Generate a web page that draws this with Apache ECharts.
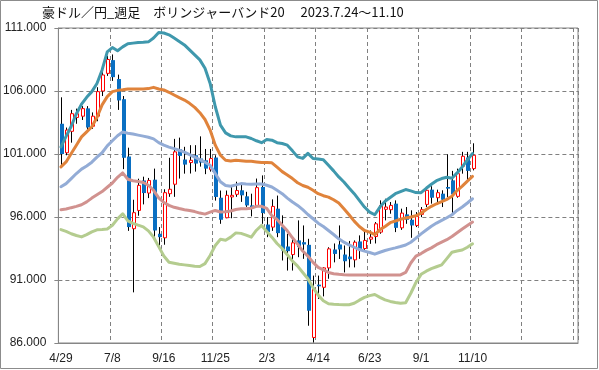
<!DOCTYPE html>
<html><head><meta charset="utf-8">
<script src="https://cdn.jsdelivr.net/npm/echarts@6/dist/echarts.min.js"></script>
<style>html,body{margin:0;padding:0;background:#fff}#c{width:599px;height:370px}</style>
</head><body><div id="c"></div>
<script>
const titleText = '豪ドル／円_週足　ボリンジャーバンド20　 2023.7.24～11.10';
const dates = ['4/29','5/6','5/13','5/20','5/27','6/3','6/10','6/17','6/24','7/1',
'7/8','7/15','7/22','7/29','8/5','8/12','8/19','8/26','9/2','9/9',
'9/16','9/23','9/30','10/7','10/14','10/21','10/28','11/4','11/11','11/18',
'11/25','12/2','12/9','12/16','12/23','12/30','1/6','1/13','1/20','1/27',
'2/3','2/10','2/17','2/24','3/3','3/10','3/17','3/24','3/31','4/7',
'4/14','4/21','4/28','5/5','5/12','5/19','5/26','6/2','6/9','6/16',
'6/23','6/30','7/7','7/14','7/21','7/28','8/4','8/11','8/18','8/25',
'9/1','9/8','9/15','9/22','9/29','10/6','10/13','10/20','10/27','11/3',
'11/10'];
const totalSlots = 101;

const open  = [103.4,101.1,102.8,103.9,104.0,104.62,103.2,104.0,106.0,107.4,
108.45,106.95,105.35,100.8,95.07,96.52,98.9,97.9,98.96,94.67,
94.35,97.85,98.6,101.38,100.56,100.32,100.9,100.64,100.5,99.76,
100.72,97.53,95.94,97.59,97.8,98.12,97.64,96.92,96.87,98.38,
95.4,95.2,96.66,95.2,93.66,93.02,94.14,94.0,93.79,86.44,
90.63,90.42,91.96,93.42,93.82,93.02,92.86,92.6,94.06,93.5,
94.24,94.45,94.8,96.61,96.58,97.06,95.14,96.21,95.78,95.33,
96.21,97.0,98.17,97.53,97.85,98.38,98.91,97.64,100.03,100.72,
99.84];
const close = [101.0,102.9,104.2,104.2,104.6,103.1,104.0,105.95,107.27,108.5,
107.1,105.25,100.7,95.2,96.34,98.51,97.9,98.9,94.93,94.4,
97.93,98.2,101.17,100.85,100.16,100.5,100.24,100.32,99.84,100.64,
97.59,95.78,97.72,97.72,98.1,97.72,96.92,96.74,98.33,96.31,
94.8,96.84,94.72,93.34,93.29,93.95,93.61,93.82,88.56,90.29,
90.5,91.96,93.47,93.07,93.42,92.49,92.65,94.0,93.42,94.14,
94.4,95.46,96.92,96.79,96.92,95.14,96.31,95.78,95.33,96.05,
96.58,98.12,97.53,97.93,97.37,98.25,97.8,99.44,100.82,99.66,
100.9];
const low   = [100.0,100.9,101.9,103.4,103.7,102.75,103.0,103.6,105.6,107.2,
106.8,104.5,99.8,94.9,90.02,96.1,97.0,97.5,94.14,93.74,
93.8,97.6,97.6,99.05,99.44,99.45,99.6,100.0,99.4,99.6,
97.3,95.46,95.9,95.9,97.6,97.2,96.8,96.05,96.8,95.46,
94.4,94.9,94.4,92.55,91.75,91.75,92.81,92.68,87.37,86.04,
89.5,89.7,91.1,92.4,92.67,91.6,92.0,92.0,92.68,93.34,
93.87,93.9,94.67,95.73,96.26,94.8,94.98,95.46,94.35,95.2,
95.99,96.79,97.06,97.19,96.79,97.59,96.31,97.53,99.44,98.9,
99.7];
const high  = [105.5,103.1,104.5,104.6,104.8,104.8,104.3,106.3,107.5,108.8,
108.9,107.3,105.6,101.5,97.37,99.04,99.2,99.1,99.84,95.2,
98.2,100.7,102.2,102.3,101.57,101.7,101.7,102.4,101.4,101.4,
100.9,98.1,98.1,98.4,98.8,98.65,98.0,97.85,99.05,99.3,
96.0,97.4,97.7,96.13,94.67,94.4,95.73,95.33,94.27,91.35,
91.35,92.0,93.6,93.9,95.33,93.74,94.1,94.14,94.54,94.93,
94.93,95.6,97.32,97.45,97.19,97.32,96.66,96.79,96.53,96.39,
96.79,98.33,98.44,98.17,98.12,100.98,99.66,99.84,101.17,101.17,
101.85];

const upper2 = [101.57,102.4,103.2,104.2,104.95,105.5,105.95,106.6,107.67,109.1,
109.45,109.2,109.5,109.75,109.8,109.85,109.87,109.9,110.2,110.64,
110.6,110.46,110.2,109.93,109.66,109.26,108.87,108.47,107.8,106.6,
104.75,103.29,102.68,102.44,102.36,102.36,102.36,102.23,102.05,101.9,
102.15,102.1,101.9,101.83,101.7,101.25,100.77,100.65,101.05,100.64,
100.6,100.55,100.1,99.66,99.18,98.78,98.3,97.85,97.32,96.79,
96.39,96.18,96.79,97.25,97.55,97.85,98.02,98.18,98.07,97.94,
97.93,98.28,98.6,98.88,99.05,99.15,99.08,99.5,99.97,100.53,
101.04];
const upper1 = [99.98,100.37,101.04,101.7,102.36,102.76,103.16,103.9,104.9,105.55,
105.95,106.05,106.1,106.16,106.16,106.16,106.16,106.19,106.29,106.16,
106.08,105.9,105.68,105.47,105.28,105.02,104.7,104.28,103.74,102.9,
101.7,100.9,100.5,100.45,100.5,100.47,100.42,100.42,100.37,100.32,
100.32,100.3,99.95,99.6,99.34,99.05,98.72,98.5,98.36,98.12,
97.85,97.69,97.58,97.37,97.11,96.66,96.18,95.67,95.25,94.93,
94.8,94.6,95.0,95.25,95.55,95.68,95.82,95.92,96.0,96.1,
96.3,96.6,96.85,97.05,97.22,97.4,97.65,98.1,98.45,98.85,
99.22];
const middle = [98.4,98.65,99.05,99.45,99.8,100.05,100.35,100.75,101.1,101.65,
102.05,102.45,102.75,102.65,102.58,102.5,102.42,102.33,102.2,101.9,
101.7,101.55,101.43,101.3,101.15,100.95,100.75,100.55,100.35,100.1,
99.45,98.8,98.5,98.44,98.55,98.65,98.62,98.6,98.62,98.62,
98.52,98.38,98.12,97.85,97.5,97.19,96.92,96.58,96.2,95.86,
95.51,95.25,94.93,94.61,94.27,94.0,93.79,93.6,93.42,93.29,
93.18,93.05,93.2,93.34,93.45,93.55,93.66,93.78,94.0,94.32,
94.66,94.97,95.27,95.52,95.73,95.94,96.18,96.52,96.79,97.11,
97.45];
const lower1 = [96.58,96.63,96.74,96.84,96.97,97.2,97.5,97.76,98.02,98.36,
98.7,99.15,99.5,99.0,98.88,98.82,98.74,98.52,98.12,97.52,
97.15,96.92,96.77,96.67,96.58,96.52,96.43,96.31,96.23,96.38,
96.52,96.4,96.42,96.48,96.6,96.66,96.66,96.7,96.85,96.85,
96.68,96.1,95.8,95.35,94.9,94.35,93.85,93.3,92.9,92.4,
92.0,91.8,91.6,91.5,91.45,91.42,91.4,91.4,91.4,91.4,
91.4,91.4,91.4,91.4,91.4,91.4,91.4,91.6,92.35,92.9,
93.1,93.35,93.55,93.8,94.0,94.2,94.45,94.75,95.05,95.33,
95.6];
const lower2 = [95.0,94.86,94.67,94.53,94.42,94.6,94.82,94.98,95.01,95.05,
95.35,95.85,96.26,95.7,95.5,95.35,95.22,94.9,94.4,93.65,
92.9,92.41,92.33,92.25,92.2,92.15,92.1,92.07,92.3,92.95,
93.74,94.23,94.16,94.4,94.74,94.7,94.56,94.4,94.95,95.33,
94.85,94.4,93.9,93.5,93.0,92.5,92.1,91.6,91.1,90.4,
89.8,89.35,89.12,89.08,89.05,89.04,89.04,89.15,89.4,89.62,
89.76,89.85,89.62,89.42,89.3,89.22,89.15,89.2,89.95,90.8,
91.45,91.7,91.9,92.05,92.2,92.7,93.2,93.3,93.38,93.6,
93.87];

const yMin = 86, yMax = 111, yStep = 5;

const categories = dates.concat(new Array(totalSlots - dates.length).fill(''));
const candleData = dates.map((d, i) => [i, open[i], close[i], low[i], high[i]]);

function renderCandle(params, api) {
  const i = api.value(0);
  const o = api.value(1), c = api.value(2), l = api.value(3), h = api.value(4);
  const pO = api.coord([i, o]), pC = api.coord([i, c]);
  const pL = api.coord([i, l]), pH = api.coord([i, h]);
  const x0 = Math.round(pO[0]);
  const top = Math.min(pO[1], pC[1]), bot = Math.max(pO[1], pC[1]);
  const up = c >= o;
  const children = [{
    type: 'line',
    shape: {x1: x0 + 0.5, y1: pH[1], x2: x0 + 0.5, y2: pL[1]},
    style: {stroke: '#000', lineWidth: 1}
  }];
  if (up) {
    children.push({type: 'rect',
      shape: {x: x0 - 0.5, y: top, width: 3, height: Math.max(bot - top, 1)},
      style: {fill: '#fff', stroke: '#ff0000', lineWidth: 1}});
  } else {
    children.push({type: 'rect',
      shape: {x: x0 - 1, y: top, width: 4, height: Math.max(bot - top, 1)},
      style: {fill: '#0a6fc2', stroke: null}});
  }
  return {type: 'group', children};
}

function band(data, color, z) {
  return {type: 'line', data, symbol: 'none', showSymbol: false, z,
    lineStyle: {color, width: 3, join: 'round', cap: 'round'},
    itemStyle: {color}, emphasis: {disabled: true}, animation: false};
}

const chart = echarts.init(document.getElementById('c'), null, {renderer: 'canvas'});
chart.setOption({
  animation: false,
  backgroundColor: '#fff',
  grid: {left: 58, right: 21, top: 28, bottom: 27, show: true,
    borderColor: '#868686', borderWidth: 1, backgroundColor: 'transparent'},
  xAxis: {
    type: 'category', data: categories, boundaryGap: true,
    axisLine: {lineStyle: {color: '#868686'}},
    axisTick: {interval: 9, length: 4, lineStyle: {color: '#868686'}},
    axisLabel: {interval: 9, color: '#222', fontSize: 12, fontFamily: 'Liberation Sans', margin: 10},
    splitLine: {show: true, interval: 9, lineStyle: {color: '#808080', type: [4, 3]}}
  },
  yAxis: {
    type: 'value', min: yMin, max: yMax, interval: yStep,
    axisLine: {show: true, lineStyle: {color: '#868686'}},
    axisTick: {show: true, length: 4, lineStyle: {color: '#868686'}},
    axisLabel: {formatter: v => v.toFixed(3), color: '#222', fontSize: 12,
      fontFamily: 'Liberation Sans', margin: 12},
    splitLine: {show: true, lineStyle: {color: '#808080', type: [4, 3]}}
  },
  graphic: [
    {type: 'rect', shape: {x: 0.5, y: 0.5, width: 597, height: 368},
      style: {fill: 'none', stroke: '#8c8c8c', lineWidth: 1}, silent: true},
    {type: 'text', left: 42, top: 6,
      style: {text: titleText, font: '13px "Noto Sans CJK JP"', fill: '#111'}}
  ],
  series: [
    {type: 'custom', renderItem: renderCandle, data: candleData, z: 2,
      encode: {x: 0, y: [1, 2, 3, 4]}, animation: false},
    band(lower2, '#b4cc8f', 3),
    band(lower1, '#d1928f', 4),
    band(middle, '#93acd6', 5),
    band(upper1, '#e0833b', 6),
    band(upper2, '#3f98ad', 7)
  ]
});
</script>
</body></html>
